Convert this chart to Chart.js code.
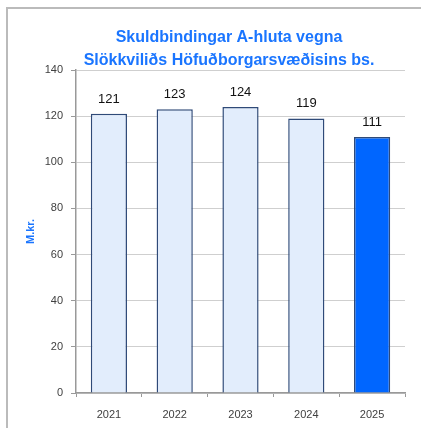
<!DOCTYPE html>
<html>
<head>
<meta charset="utf-8">
<script src="https://cdn.jsdelivr.net/npm/chart.js@4"></script>
<style>
  html, body { margin: 0; padding: 0; background: #fff; }
  #wrap { position: relative; width: 421px; height: 428px; overflow: hidden; }
  #frame { position: absolute; left: 6px; top: 7px; width: 420px; height: 430px;
           border-left: 2px solid #bbb; border-top: 2px solid #bbb; }
  canvas { position: absolute; left: 0; top: 0; }
</style>
</head>
<body>
<div id="wrap">
  <div id="frame"></div>
  <canvas id="chart" width="421" height="428"></canvas>
</div>
<script>
// chart data
var years = ["2021", "2022", "2023", "2024", "2025"];
var values = [121, 123, 124, 119, 111];
var titleLines = ["Skuldbindingar A-hluta vegna", "Slökkviliðs Höfuðborgarsvæðisins bs."];
var yTitle = "M.kr.";

var blue = "#1a75ff";
var lightFill = "#e2edfc";
var edge = "#2f4a78";

// title drawn over the whole frame, not only the chart area
var titlePlugin = {
    id: "twoLineTitle",
    afterDraw: function(chart) {
        var ctx = chart.ctx;
        ctx.save();
        ctx.fillStyle = blue;
        ctx.font = "bold 16px 'Liberation Sans', sans-serif";
        ctx.textAlign = "center";
        ctx.textBaseline = "middle";
        ctx.fillText(titleLines[0], 229, 38);
        ctx.fillText(titleLines[1], 229, 61);
        ctx.restore();
    }
};

// value labels above each bar
var valueLabels = {
    id: "valueLabels",
    afterDatasetsDraw: function(chart) {
        var ctx = chart.ctx;
        var meta = chart.getDatasetMeta(0);
        ctx.save();
        ctx.fillStyle = "#111";
        ctx.font = "13px 'Liberation Sans', sans-serif";
        ctx.textAlign = "center";
        ctx.textBaseline = "alphabetic";
        meta.data.forEach(function(bar, i) {
            ctx.fillText(String(values[i]), bar.x, bar.y - 11);
        });
        ctx.restore();
    }
};

var fills = values.map(function(v, i) { return i === values.length - 1 ? "#0066ff" : lightFill; });

new Chart(document.getElementById("chart"), {
    type: "bar",
    data: {
        labels: years,
        datasets: [{
            data: values,
            backgroundColor: fills,
            borderColor: edge,
            borderWidth: 1.5,
            categoryPercentage: 1,
            barPercentage: 0.55
        }]
    },
    options: {
        responsive: false,
        animation: false,
        layout: { padding: { left: 20, right: 16, top: 70, bottom: 0 } },
        plugins: {
            legend: { display: false },
            title: { display: false },
            tooltip: { enabled: false }
        },
        scales: {
            x: {
                grid: { display: true, drawOnChartArea: false, drawTicks: true, tickLength: 4, color: "#999", lineWidth: 1 },
                border: { color: "#999", width: 1.5 },
                ticks: { color: "#404040", padding: 11, font: { size: 11, family: "'Liberation Sans', sans-serif" } },
                afterFit: function(scale) { scale.height = 35; }
            },
            y: {
                min: 0,
                max: 140,
                ticks: { stepSize: 20, color: "#404040", padding: 8, font: { size: 11, family: "'Liberation Sans', sans-serif" } },
                grid: { color: "#cfcfcf", borderDash: [1, 2], tickColor: "#999", tickBorderDash: [], tickLength: 5 },
                border: { color: "#999", width: 1.5 },
                title: { display: true, text: yTitle, color: blue, padding: { top: 4, bottom: 0 },
                         font: { size: 11, weight: "bold", family: "'Liberation Sans', sans-serif" } },
                afterFit: function(scale) { scale.width = 56; }
            }
        }
    },
    plugins: [titlePlugin, valueLabels]
});
</script>
</body>
</html>
